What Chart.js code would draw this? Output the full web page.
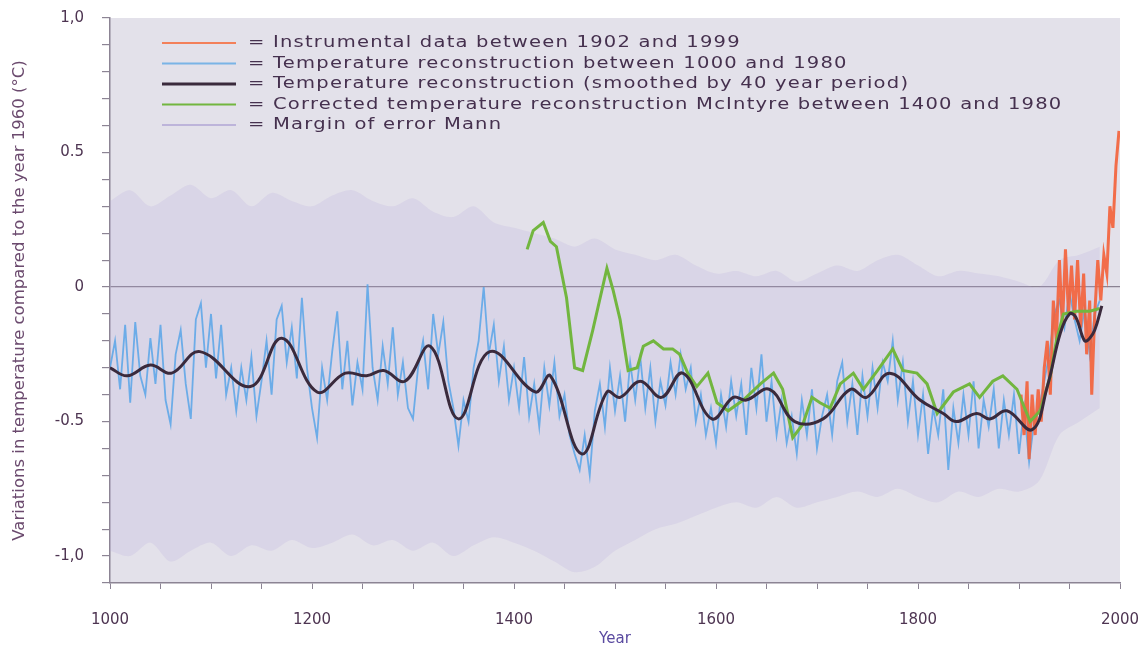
<!DOCTYPE html>
<html>
<head>
<meta charset="utf-8">
<script src="https://cdn.jsdelivr.net/npm/chart.js@4.4.1/dist/chart.umd.min.js"></script>
<style>
  html, body { margin: 0; padding: 0; background: #ffffff; }
  canvas { display: block; }
</style>
</head>
<body>
<canvas id="tempChart" width="1142" height="648"></canvas>
<script>
// axis ticks
const xTickValues = [1000, 1200, 1400, 1600, 1800, 2000];
const yTickValues = [1.0, 0.5, 0, -0.5, -1.0];
const yTickTexts = ['1,0', '0.5', '0', '-0.5', '-1,0'];

const legendTexts = [
  '= Instrumental data between 1902 and 1999',
  '= Temperature reconstruction between 1000 and 1980',
  '= Temperature reconstruction (smoothed by 40 year period)',
  '= Corrected temperature reconstruction McIntyre between 1400 and 1980',
  '= Margin of error Mann'
];

// blue reconstruction, one value every 5 years from 1000 to 1980
const reconStart = 1000;
const reconStep = 5;
const reconValues = [
  -0.30, -0.20, -0.38, -0.14, -0.43, -0.13, -0.33, -0.40, -0.19, -0.36,
  -0.14, -0.42, -0.51, -0.25, -0.16, -0.36, -0.49, -0.12, -0.06, -0.30,
  -0.10, -0.34, -0.14, -0.40, -0.30, -0.46, -0.30, -0.42, -0.26, -0.48,
  -0.35, -0.20, -0.40, -0.12, -0.07, -0.28, -0.15, -0.34, -0.04, -0.30,
  -0.45, -0.56, -0.30, -0.42, -0.24, -0.09, -0.38, -0.20, -0.44, -0.28,
  -0.38,  0.01, -0.30, -0.42, -0.22, -0.36, -0.15, -0.40, -0.28, -0.45,
  -0.49, -0.30, -0.20, -0.38, -0.10, -0.25, -0.13, -0.35, -0.45, -0.59,
  -0.42, -0.50, -0.30, -0.20,  0.00, -0.25, -0.14, -0.35, -0.22, -0.42,
  -0.30, -0.45, -0.26, -0.48, -0.36, -0.52, -0.30, -0.44, -0.28, -0.48,
  -0.40, -0.55, -0.62, -0.68, -0.55, -0.70, -0.46, -0.36, -0.52, -0.30,
  -0.46, -0.33, -0.50, -0.28, -0.42, -0.26, -0.45, -0.30, -0.50, -0.35,
  -0.44, -0.28, -0.40, -0.25, -0.38, -0.30, -0.50, -0.40, -0.55, -0.45,
  -0.58, -0.40, -0.52, -0.35, -0.48, -0.36, -0.55, -0.30, -0.45, -0.25,
  -0.50, -0.35, -0.55, -0.42, -0.58, -0.48, -0.62, -0.42, -0.55, -0.38,
  -0.60, -0.48, -0.40, -0.55, -0.35, -0.28, -0.50, -0.36, -0.55, -0.33,
  -0.48, -0.30, -0.45, -0.28, -0.35, -0.20, -0.42, -0.28, -0.50, -0.35,
  -0.55, -0.40, -0.62, -0.45, -0.55, -0.38, -0.68, -0.45, -0.58, -0.40,
  -0.55, -0.35, -0.60, -0.42, -0.52, -0.38, -0.60, -0.42, -0.55, -0.40,
  -0.62, -0.45, -0.65, -0.50, -0.45, -0.35, -0.25, -0.10, -0.05, -0.15,
  -0.02, -0.12, -0.20, -0.08, -0.25, -0.10, -0.05
];

// smoothed reconstruction (40 year)
const smoothYears = [1000, 1017, 1040, 1061, 1089, 1139, 1170, 1205, 1233, 1254,
  1271, 1292, 1317, 1345, 1376, 1421, 1436, 1467, 1492, 1505,
  1525, 1546, 1567, 1596, 1617, 1630, 1653, 1678, 1706, 1733,
  1749, 1772, 1802, 1825, 1838, 1858, 1871, 1888, 1913, 1928,
  1941, 1950, 1956, 1965, 1970, 1975, 1982];
const smoothValues = [-0.30, -0.33, -0.29, -0.32, -0.24, -0.37, -0.19, -0.39, -0.32, -0.33,
  -0.31, -0.35, -0.22, -0.49, -0.24, -0.39, -0.33, -0.62, -0.39, -0.41,
  -0.35, -0.41, -0.32, -0.49, -0.41, -0.42, -0.38, -0.50, -0.49, -0.38,
  -0.41, -0.32, -0.42, -0.47, -0.50, -0.47, -0.49, -0.46, -0.53, -0.37,
  -0.17, -0.10, -0.11, -0.20, -0.19, -0.16, -0.07];

// McIntyre corrected reconstruction
const mcintyreYears = [1413, 1419, 1429, 1436, 1442, 1452, 1460, 1468, 1478, 1492,
  1498, 1505, 1513, 1522, 1528, 1538, 1548, 1557, 1564, 1572,
  1581, 1592, 1601, 1612, 1627, 1644, 1657, 1666, 1676, 1686,
  1695, 1703, 1713, 1723, 1736, 1746, 1760, 1775, 1785, 1799,
  1809, 1819, 1835, 1851, 1861, 1874, 1884, 1898, 1911, 1921,
  1931, 1937, 1944, 1957, 1970, 1980];
const mcintyreValues = [0.14, 0.21, 0.24, 0.17, 0.15, -0.04, -0.30, -0.31, -0.16, 0.07,
  -0.01, -0.12, -0.31, -0.30, -0.22, -0.20, -0.23, -0.23, -0.25, -0.32,
  -0.37, -0.32, -0.43, -0.46, -0.42, -0.36, -0.32, -0.38, -0.56, -0.51,
  -0.41, -0.43, -0.45, -0.36, -0.32, -0.38, -0.31, -0.23, -0.31, -0.32,
  -0.36, -0.47, -0.39, -0.36, -0.41, -0.35, -0.33, -0.38, -0.50, -0.46,
  -0.33, -0.20, -0.10, -0.09, -0.09, -0.08];

// instrumental record
const instrYears = [1902, 1905, 1908, 1910, 1913, 1916, 1919, 1922, 1925, 1928,
  1931, 1934, 1937, 1940, 1943, 1946, 1949, 1952, 1955, 1958,
  1961, 1964, 1967, 1970, 1972, 1975, 1978, 1981, 1984, 1987,
  1990, 1993, 1996, 1999];
const instrValues = [-0.40, -0.55, -0.35, -0.64, -0.40, -0.55, -0.38, -0.50, -0.30, -0.20,
  -0.40, -0.05, -0.20, 0.10, -0.15, 0.14, -0.10, 0.08, -0.12, 0.10,
  -0.15, 0.05, -0.25, -0.05, -0.40, -0.10, 0.10, -0.05, 0.12, 0.05,
  0.30, 0.22, 0.45, 0.58];

// margin of error (Mann), every 20 years
const marginYears = [1000, 1020, 1040, 1060, 1080, 1100, 1120, 1140, 1160, 1180,
  1200, 1220, 1240, 1260, 1280, 1300, 1320, 1340, 1360, 1380,
  1400, 1420, 1440, 1460, 1480, 1500, 1520, 1540, 1560, 1580,
  1600, 1620, 1640, 1660, 1680, 1700, 1720, 1740, 1760, 1780,
  1800, 1820, 1840, 1860, 1880, 1900, 1920, 1940, 1960, 1980];
const marginUpper = [0.32, 0.36, 0.30, 0.34, 0.38, 0.33, 0.36, 0.30, 0.35, 0.32,
  0.30, 0.34, 0.36, 0.32, 0.30, 0.33, 0.28, 0.26, 0.30, 0.24,
  0.22, 0.20, 0.18, 0.15, 0.18, 0.14, 0.12, 0.10, 0.12, 0.08,
  0.05, 0.06, 0.04, 0.06, 0.02, 0.05, 0.08, 0.06, 0.10, 0.12,
  0.08, 0.04, 0.06, 0.05, 0.04, 0.02, 0.00, 0.10, 0.12, 0.15];
const marginLower = [-0.98, -1.00, -0.95, -1.02, -0.98, -0.95, -1.00, -0.96, -0.98, -0.94,
  -0.97, -0.95, -0.92, -0.96, -0.94, -0.98, -0.95, -1.00, -0.96, -0.93,
  -0.95, -0.98, -1.02, -1.06, -1.04, -0.98, -0.94, -0.90, -0.88, -0.85,
  -0.82, -0.80, -0.82, -0.78, -0.82, -0.80, -0.78, -0.76, -0.78, -0.75,
  -0.78, -0.80, -0.76, -0.78, -0.75, -0.76, -0.72, -0.55, -0.50, -0.45];

const toPoints = (xs, ys) => ys.map((y, i) => ({ x: xs[i], y: y }));
const reconPoints = reconValues.map((y, i) => ({ x: reconStart + i * reconStep, y: y }));

const axisColor = '#8c8494';
const textColor = '#4e3552';
const fontFamily = '"DejaVu Sans", sans-serif';

// light plot background
const plotBackground = {
  id: 'plotBackground',
  beforeDraw(chart) {
    const a = chart.chartArea;
    const ctx = chart.ctx;
    ctx.save();
    ctx.fillStyle = '#e3e1ea';
    ctx.fillRect(a.left, a.top, a.right - a.left, a.bottom - a.top);
    ctx.restore();
  }
};

// legend drawn inside the plot, top left (wide lettering like the original)
const inlineLegend = {
  id: 'inlineLegend',
  afterDraw(chart) {
    const ctx = chart.ctx;
    const a = chart.chartArea;
    const colors = ['#f3805a', '#7ab4e6', '#3a2a3c', '#72b63f', '#bdb4da'];
    ctx.save();
    ctx.font = '16px ' + fontFamily;
    ctx.letterSpacing = '1px';
    ctx.textBaseline = 'middle';
    legendTexts.forEach((t, i) => {
      const y = a.top + 25 + i * 20.5;
      ctx.strokeStyle = colors[i];
      ctx.lineWidth = i === 2 ? 3 : 2;
      ctx.beginPath();
      ctx.moveTo(a.left + 52, y);
      ctx.lineTo(a.left + 126, y);
      ctx.stroke();
      ctx.save();
      ctx.translate(a.left + 138, y);
      ctx.scale(1.22, 1);
      ctx.fillStyle = '#45304e';
      ctx.fillText(t, 0, 0);
      ctx.restore();
    });
    ctx.restore();
  }
};

new Chart(document.getElementById('tempChart'), {
  type: 'line',
  data: {
    datasets: [
      {
        label: 'smoothed',
        data: toPoints(smoothYears, smoothValues),
        borderColor: '#3a2a3c',
        borderWidth: 3,
        tension: 0.4,
        pointRadius: 0
      },
      {
        label: 'McIntyre',
        data: toPoints(mcintyreYears, mcintyreValues),
        borderColor: '#72b63f',
        borderWidth: 3,
        tension: 0,
        pointRadius: 0
      },
      {
        label: 'instrumental',
        data: toPoints(instrYears, instrValues),
        borderColor: 'rgba(243, 96, 56, 0.9)',
        borderWidth: 3,
        tension: 0,
        pointRadius: 0
      },
      {
        label: 'reconstruction',
        data: reconPoints,
        borderColor: 'rgba(88, 164, 232, 0.85)',
        borderWidth: 1.8,
        tension: 0,
        pointRadius: 0
      },
      {
        label: 'margin upper',
        data: toPoints(marginYears, marginUpper),
        borderWidth: 0,
        borderColor: 'rgba(0,0,0,0)',
        backgroundColor: 'rgba(180, 166, 220, 0.2)',
        fill: '+1',
        tension: 0.3,
        pointRadius: 0
      },
      {
        label: 'margin lower',
        data: toPoints(marginYears, marginLower),
        borderWidth: 0,
        borderColor: 'rgba(0,0,0,0)',
        fill: false,
        tension: 0.3,
        pointRadius: 0
      }
    ]
  },
  options: {
    responsive: false,
    animation: false,
    layout: { padding: { top: 18, right: 22, left: 0, bottom: 0 } },
    plugins: {
      legend: { display: false },
      tooltip: { enabled: false }
    },
    scales: {
      x: {
        type: 'linear',
        min: 1000,
        max: 2000,
        afterFit: (scale) => {
          scale.height = 65;
          scale.paddingLeft = 0;
          scale.paddingRight = 0;
        },
        border: { color: axisColor, width: 1.5 },
        grid: { drawOnChartArea: false, tickLength: 6, tickColor: axisColor },
        ticks: {
          stepSize: 50,
          autoSkip: false,
          maxRotation: 0,
          padding: 22,
          color: textColor,
          font: { family: fontFamily, size: 15 },
          callback: (v) => xTickValues.includes(v) ? String(v) : ''
        },
        title: {
          display: true,
          text: 'Year',
          color: '#5a4aa0',
          font: { family: fontFamily, size: 15 },
          padding: { top: 0, bottom: 0 }
        }
      },
      y: {
        type: 'linear',
        min: -1.1,
        max: 1.0,
        afterFit: (scale) => {
          scale.width = 110;
          scale.paddingTop = 0;
          scale.paddingBottom = 0;
        },
        border: { color: axisColor, width: 1.5 },
        grid: {
          drawOnChartArea: true,
          tickLength: 8,
          tickColor: axisColor,
          color: (c) => (c.tick && Math.abs(c.tick.value) < 1e-6) ? '#8a8292' : 'rgba(0,0,0,0)',
          lineWidth: 1.2
        },
        ticks: {
          stepSize: 0.1,
          autoSkip: false,
          padding: 18,
          color: textColor,
          font: { family: fontFamily, size: 15 },
          callback: (v) => {
            const i = yTickValues.findIndex(t => Math.abs(t - v) < 1e-6);
            return i >= 0 ? yTickTexts[i] : '';
          }
        },
        title: {
          display: true,
          text: 'Variations in temperature compared to the year 1960 (°C)',
          color: '#6b4a6e',
          font: { family: fontFamily, size: 16.5 },
          padding: { top: 10, bottom: 0 }
        }
      }
    }
  },
  plugins: [plotBackground, inlineLegend]
});
</script>
</body>
</html>
